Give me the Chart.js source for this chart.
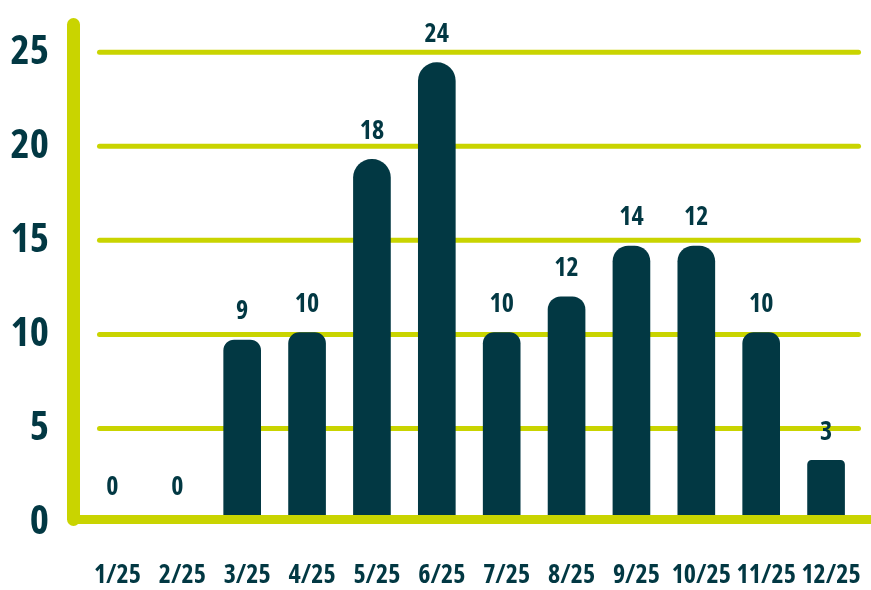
<!DOCTYPE html>
<html>
<head>
<meta charset="utf-8">
<script src="https://cdn.jsdelivr.net/npm/chart.js@4"></script>
<style>
  html, body { margin: 0; padding: 0; background: #ffffff; }
  #wrap { width: 871px; height: 590px; }
</style>
</head>
<body>
<div id="wrap"><canvas id="c" width="871" height="590"></canvas></div>
<script>
// ---- data ----
const months = ['1/25','2/25','3/25','4/25','5/25','6/25','7/25','8/25','9/25','10/25','11/25','12/25'];
const barValues = [0, 0, 9.7, 10.1, 19.3, 24.45, 10.1, 12.0, 14.7, 14.7, 10.1, 3.3];
const valueLabels = ['0','0','9','10','18','24','10','12','14','12','10','3'];
const yTicks = [0, 5, 10, 15, 20, 25];
const yMax = 27;

const TEAL = '#023843';
const LIME = '#c9d400';

// choose a narrower bold face that is really installed
function pickFont(stretches) {
  const c = document.createElement('canvas').getContext('2d');
  const fams = ["'Noto Sans'", "'Open Sans'"];
  for (const s of stretches) {
    for (const f of fams) {
      c.font = '700 40px ' + f;
      const n = c.measureText('1/25 2/25 10/25').width;
      c.font = '700 ' + s + ' 40px ' + f;
      const k = c.measureText('1/25 2/25 10/25').width;
      if (k < n * 0.95) return { weight: '700 ' + s, family: f + ", sans-serif" };
    }
  }
  return { weight: '700', family: "'DejaVu Sans Condensed', sans-serif" };
}
const F = pickFont(['condensed', 'semi-condensed']);
const FY = pickFont(['semi-condensed', 'condensed']);

const framePlugin = {
  id: 'frame',
  beforeDatasetsDraw(chart) {
    const {ctx, chartArea: a, scales: {y}} = chart;
    ctx.save();
    ctx.strokeStyle = LIME;
    ctx.lineCap = 'round';
    ctx.lineWidth = 5;
    yTicks.forEach(v => {
      if (v === 0) return;
      const py = y.getPixelForValue(v);
      ctx.beginPath();
      ctx.moveTo(a.left + 19.5, py);
      ctx.lineTo(a.right, py);
      ctx.stroke();
    });
    ctx.restore();
  },
  afterDatasetsDraw(chart) {
    const {ctx, chartArea: a, scales: {y}} = chart;
    const y0 = y.getPixelForValue(0);
    ctx.save();
    ctx.strokeStyle = LIME;
    ctx.lineCap = 'butt';
    ctx.lineWidth = 9;
    ctx.beginPath();
    ctx.moveTo(a.left - 6.5, y0 - 3);
    ctx.lineTo(chart.width, y0 - 3);
    ctx.stroke();
    ctx.lineCap = 'round';
    ctx.lineWidth = 13;
    ctx.beginPath();
    ctx.moveTo(a.left - 6.5, 24.5);
    ctx.lineTo(a.left - 6.5, y0 - 3);
    ctx.stroke();
    const meta = chart.getDatasetMeta(0);
    ctx.fillStyle = TEAL;
    ctx.font = F.weight + ' 26px ' + F.family;
    ctx.textAlign = 'center';
    ctx.textBaseline = 'middle';
    meta.data.forEach((bar, i) => {
      const gap = barValues[i] === 0 ? 35 : 28;
      ctx.fillText(valueLabels[i], bar.x, bar.y - gap);
    });
    ctx.restore();
  }
};

new Chart(document.getElementById('c'), {
  type: 'bar',
  data: {
    labels: months,
    datasets: [{
      data: barValues,
      backgroundColor: TEAL,
      borderSkipped: 'bottom',
      barThickness: 37,
      borderRadius: (c) => {
        const r = Math.min(18.5, (c.raw || 0) + 1);
        return {topLeft: r, topRight: r, bottomLeft: 0, bottomRight: 0};
      }
    }]
  },
  options: {
    responsive: false,
    animation: false,
    devicePixelRatio: 1,
    layout: { padding: { top: 14.6, right: 12.5, bottom: 0, left: 0 } },
    plugins: { legend: { display: false }, tooltip: { enabled: false } },
    scales: {
      x: {
        grid: { display: false, drawTicks: false },
        border: { display: false },
        ticks: {
          color: TEAL,
          font: { family: F.family, size: 26, weight: F.weight },
          padding: 37,
          labelOffset: 5,
          maxRotation: 0,
          autoSkip: false
        },
        afterFit(s) { s.height = 67.5; s.paddingLeft = 0; s.paddingRight = 0; }
      },
      y: {
        min: 0,
        max: yMax,
        grid: { display: false, drawTicks: false },
        border: { display: false },
        afterBuildTicks(s) { s.ticks = yTicks.map(v => ({ value: v })); },
        ticks: {
          color: TEAL,
          font: { family: FY.family, size: 41, weight: FY.weight },
          padding: 31
        },
        afterFit(s) { s.width = 80; s.paddingTop = 0; s.paddingBottom = 0; }
      }
    }
  },
  plugins: [framePlugin]
});
</script>
</body>
</html>
